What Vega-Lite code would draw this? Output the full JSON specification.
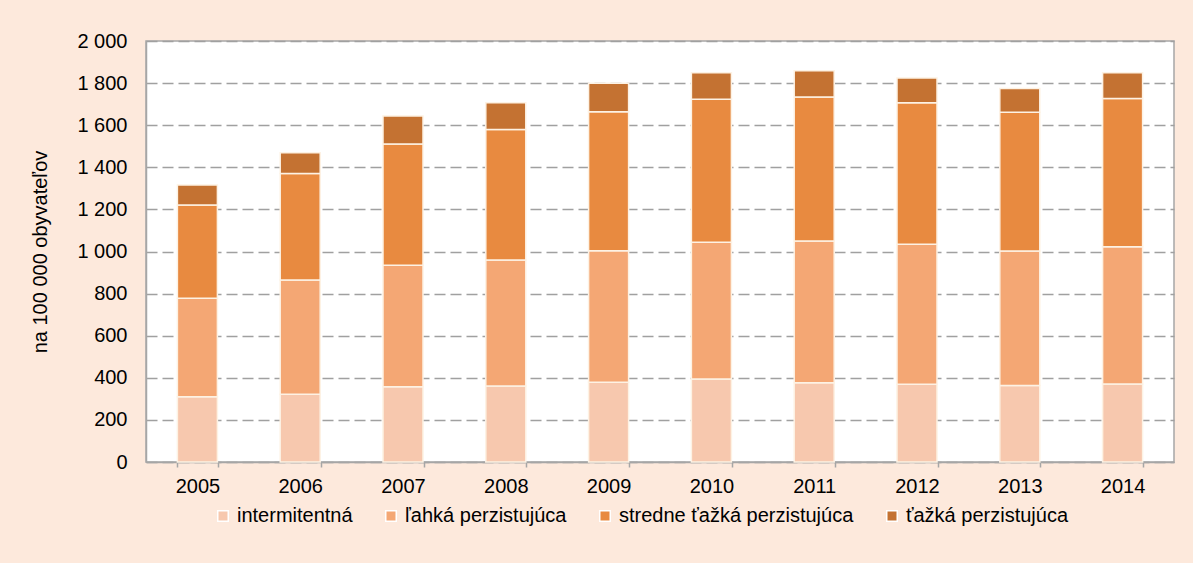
{
  "$schema": "https://vega.github.io/schema/vega-lite/v6.json",
  "width": 1028,
  "height": 421,
  "autosize": {"type": "none"},
  "padding": {"left": 146, "top": 41, "right": 19, "bottom": 101},
  "background": "#fde9dc",
  "config": {
    "locale": {"number": {"decimal": ",", "thousands": " ", "grouping": [3], "currency": ["", " €"]}},
    "view": {"fill": "#ffffff", "stroke": "#a6a6a6", "strokeWidth": 1.5},
    "font": "Liberation Sans"
  },
  "data": {
    "values": [
      {"rok": "2005", "typ": "intermitentná", "r": 1, "v": 310},
      {"rok": "2005", "typ": "ľahká perzistujúca", "r": 2, "v": 468},
      {"rok": "2005", "typ": "stredne ťažká perzistujúca", "r": 3, "v": 443},
      {"rok": "2005", "typ": "ťažká perzistujúca", "r": 4, "v": 95},
      {"rok": "2006", "typ": "intermitentná", "r": 1, "v": 322},
      {"rok": "2006", "typ": "ľahká perzistujúca", "r": 2, "v": 543},
      {"rok": "2006", "typ": "stredne ťažká perzistujúca", "r": 3, "v": 506},
      {"rok": "2006", "typ": "ťažká perzistujúca", "r": 4, "v": 98},
      {"rok": "2007", "typ": "intermitentná", "r": 1, "v": 358},
      {"rok": "2007", "typ": "ľahká perzistujúca", "r": 2, "v": 577},
      {"rok": "2007", "typ": "stredne ťažká perzistujúca", "r": 3, "v": 576},
      {"rok": "2007", "typ": "ťažká perzistujúca", "r": 4, "v": 133},
      {"rok": "2008", "typ": "intermitentná", "r": 1, "v": 361},
      {"rok": "2008", "typ": "ľahká perzistujúca", "r": 2, "v": 599},
      {"rok": "2008", "typ": "stredne ťažká perzistujúca", "r": 3, "v": 620},
      {"rok": "2008", "typ": "ťažká perzistujúca", "r": 4, "v": 127},
      {"rok": "2009", "typ": "intermitentná", "r": 1, "v": 379},
      {"rok": "2009", "typ": "ľahká perzistujúca", "r": 2, "v": 625},
      {"rok": "2009", "typ": "stredne ťažká perzistujúca", "r": 3, "v": 660},
      {"rok": "2009", "typ": "ťažká perzistujúca", "r": 4, "v": 135},
      {"rok": "2010", "typ": "intermitentná", "r": 1, "v": 394},
      {"rok": "2010", "typ": "ľahká perzistujúca", "r": 2, "v": 650},
      {"rok": "2010", "typ": "stredne ťažká perzistujúca", "r": 3, "v": 679},
      {"rok": "2010", "typ": "ťažká perzistujúca", "r": 4, "v": 126},
      {"rok": "2011", "typ": "intermitentná", "r": 1, "v": 377},
      {"rok": "2011", "typ": "ľahká perzistujúca", "r": 2, "v": 673},
      {"rok": "2011", "typ": "stredne ťažká perzistujúca", "r": 3, "v": 684},
      {"rok": "2011", "typ": "ťažká perzistujúca", "r": 4, "v": 125},
      {"rok": "2012", "typ": "intermitentná", "r": 1, "v": 369},
      {"rok": "2012", "typ": "ľahká perzistujúca", "r": 2, "v": 665},
      {"rok": "2012", "typ": "stredne ťažká perzistujúca", "r": 3, "v": 673},
      {"rok": "2012", "typ": "ťažká perzistujúca", "r": 4, "v": 117},
      {"rok": "2013", "typ": "intermitentná", "r": 1, "v": 363},
      {"rok": "2013", "typ": "ľahká perzistujúca", "r": 2, "v": 639},
      {"rok": "2013", "typ": "stredne ťažká perzistujúca", "r": 3, "v": 659},
      {"rok": "2013", "typ": "ťažká perzistujúca", "r": 4, "v": 113},
      {"rok": "2014", "typ": "intermitentná", "r": 1, "v": 371},
      {"rok": "2014", "typ": "ľahká perzistujúca", "r": 2, "v": 652},
      {"rok": "2014", "typ": "stredne ťažká perzistujúca", "r": 3, "v": 704},
      {"rok": "2014", "typ": "ťažká perzistujúca", "r": 4, "v": 122}
    ]
  },
  "mark": {"type": "bar", "width": 40, "stroke": "#fdf2e4", "strokeWidth": 1.5},
  "encoding": {
    "x": {
      "field": "rok", "type": "ordinal", "title": null,
      "scale": {"paddingInner": 0.6, "paddingOuter": 0.3},
      "axis": {
        "labelAngle": 0, "labelFontSize": 20, "labelColor": "#000000", "labelPadding": 9,
        "tickBand": "extent", "ticks": true, "tickSize": 5, "tickColor": "#a6a6a6", "tickWidth": 1.5,
        "domainColor": "#a6a6a6", "domainWidth": 1.5, "grid": false
      }
    },
    "y": {
      "field": "v", "type": "quantitative", "aggregate": "sum", "stack": "zero",
      "scale": {"domain": [0, 2000], "nice": false},
      "title": "na 100 000 obyvateľov",
      "axis": {
        "values": [0, 200, 400, 600, 800, 1000, 1200, 1400, 1600, 1800, 2000],
        "format": ",d", "labelFontSize": 20, "labelColor": "#000000", "labelPadding": 19,
        "ticks": false, "domainColor": "#a6a6a6", "domainWidth": 1.5,
        "gridColor": "#a0a0a0", "gridDash": [11, 5], "gridWidth": 1.5,
        "titleFontSize": 20, "titleFontWeight": "normal", "titleColor": "#000000", "titlePadding": 26
      }
    },
    "color": {
      "field": "typ", "type": "nominal", "title": null,
      "scale": {
        "domain": ["intermitentná", "ľahká perzistujúca", "stredne ťažká perzistujúca", "ťažká perzistujúca"],
        "range": ["#f7c8ae", "#f4a774", "#e88a40", "#c47232"]
      },
      "legend": {
        "orient": "none", "legendX": 67, "legendY": 465, "direction": "horizontal",
        "symbolType": "square", "symbolSize": 110, "symbolStrokeColor": "#ffffff", "symbolStrokeWidth": 1.5,
        "labelFontSize": 20, "labelColor": "#000000", "labelOffset": 4, "columnPadding": 28,
        "labelLimit": 400
      }
    },
    "order": {"field": "r", "type": "quantitative", "sort": "ascending"}
  }
}
